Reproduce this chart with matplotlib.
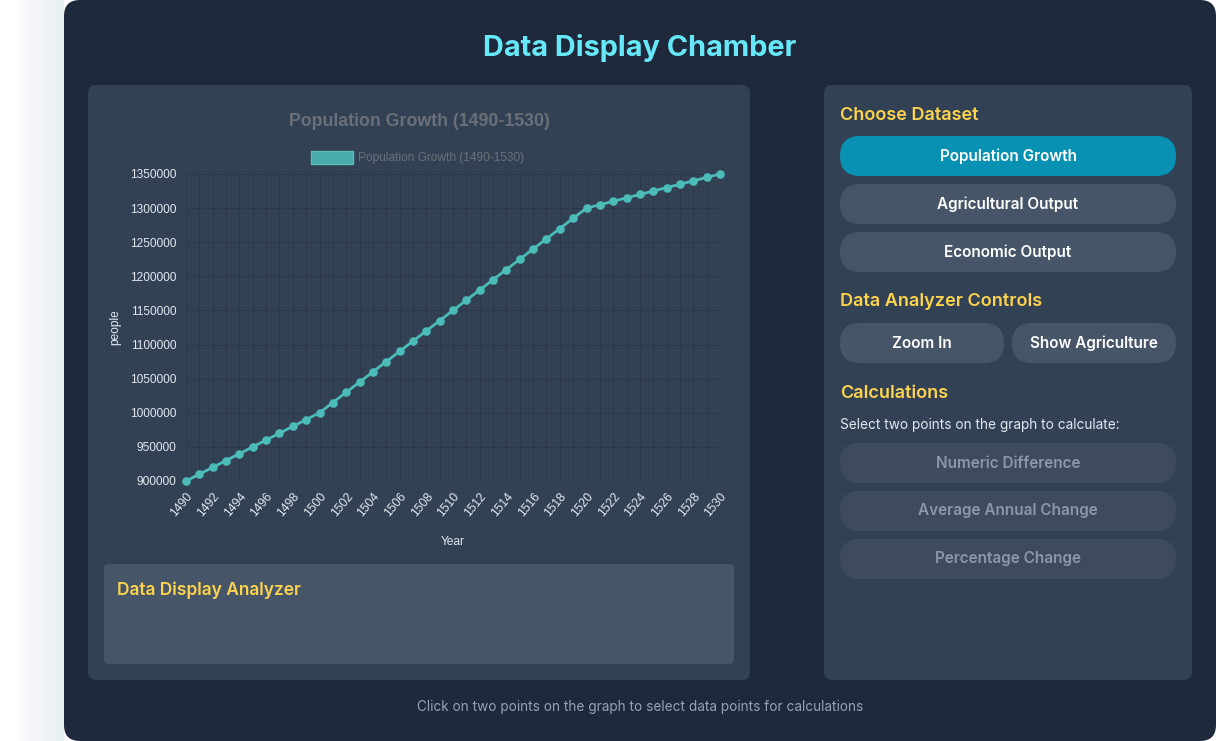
import matplotlib
matplotlib.use("Agg")
import matplotlib.pyplot as plt
from matplotlib.patches import FancyBboxPatch, Rectangle

# data
years = list(range(1490, 1531))
population = [900000, 910000, 920000, 930000, 940000, 950000, 960000, 970000, 980000, 990000,
              1000000, 1015000, 1030000, 1045000, 1060000, 1075000, 1090000, 1105000, 1120000, 1135000,
              1150000, 1165000, 1180000, 1195000, 1210000, 1225000, 1240000, 1255000, 1270000, 1285000,
              1300000, 1305000, 1310000, 1315000, 1320000, 1325000, 1330000, 1335000, 1340000, 1345000,
              1350000]
y_ticks = list(range(900000, 1350001, 50000))
x_ticks = list(range(1490, 1531, 2))
dataset_buttons = ["Population Growth", "Agricultural Output", "Economic Output"]
control_buttons = ["Zoom In", "Show Agriculture"]
calc_buttons = ["Numeric Difference", "Average Annual Change", "Percentage Change"]

W, H = 1216, 741
fig = plt.figure(figsize=(W / 100, H / 100), dpi=100, facecolor="white")

# full-figure axes in pixel coordinates for the page layout
bg = fig.add_axes([0, 0, 1, 1])
bg.set_xlim(0, W)
bg.set_ylim(H, 0)
bg.axis("off")

def box(x, y, w, h, color, r, alpha=1.0, z=1):
    bg.add_patch(FancyBboxPatch((x, y), w, h, boxstyle="round,pad=0,rounding_size=%d" % r,
                                facecolor=color, edgecolor="none", alpha=alpha, zorder=z))

# soft shadow left of the main panel
for i in range(12):
    bg.add_patch(Rectangle((64 - 4 * (i + 1), -10), 4 * (i + 1), H + 20, facecolor="#94a3b8",
                           alpha=0.01, edgecolor="none", zorder=0))

box(64, 0, W - 64, H, "#1e293b", 16)          # main panel
box(88, 85, 662, 595, "#334155", 8, z=2)       # chart card
box(824, 85, 368, 595, "#334155", 8, z=2)      # controls card
box(104, 564, 630, 100, "#475569", 4, z=3)     # analyzer box

ui = ["Inter", "DejaVu Sans"]
bg.text(640, 48, "Data Display Chamber", color="#67e8f9", fontsize=20.8, fontweight="bold",
        family=ui, ha="center", va="center", zorder=5)
bg.text(117, 590, "Data Display Analyzer", color="#fcd34d", fontsize=12.5, fontweight="semibold",
        family=ui, ha="left", va="center", zorder=5)
bg.text(640, 707, "Click on two points on the graph to select data points for calculations",
        color="#94a3b8", fontsize=9.8, family=ui, ha="center", va="center", zorder=5)

# right side controls
bg.text(840, 115, "Choose Dataset", color="#fcd34d", fontsize=13, fontweight="semibold",
        family=ui, ha="left", va="center", zorder=5)
for i, name in enumerate(dataset_buttons):
    y0 = 136 + 48 * i
    box(840, y0, 336, 40, "#0891b2" if i == 0 else "#475569", 20, z=4)
    bg.text(1008, y0 + 20, name, color="white", fontsize=11, fontweight="semibold",
            family=ui, ha="center", va="center", zorder=5)

bg.text(840, 302, "Data Analyzer Controls", color="#fcd34d", fontsize=13, fontweight="semibold",
        family=ui, ha="left", va="center", zorder=5)
for i, name in enumerate(control_buttons):
    x0 = 840 + 172 * i
    box(x0, 323, 164, 40, "#475569", 20, z=4)
    bg.text(x0 + 82, 343, name, color="white", fontsize=11, fontweight="semibold",
            family=ui, ha="center", va="center", zorder=5)

bg.text(840, 393, "Calculations", color="#fcd34d", fontsize=13, fontweight="semibold",
        family=ui, ha="left", va="center", zorder=5)
bg.text(840, 425, "Select two points on the graph to calculate:", color="#e2e8f0", fontsize=9.8,
        family=ui, ha="left", va="center", zorder=5)
for i, name in enumerate(calc_buttons):
    y0 = 443 + 48 * i
    box(840, y0, 336, 40, "#3d4a5f", 20, z=4)
    bg.text(1008, y0 + 20, name, color="#8b97aa", fontsize=11, fontweight="semibold",
            family=ui, ha="center", va="center", zorder=5)

# chart title and legend (chart.js style)
cj = ["Liberation Sans", "DejaVu Sans"]
bg.text(419, 122, "Population Growth (1490-1530)", color="#6b7078", fontsize=12.8,
        fontweight="bold", family=cj, ha="center", va="center", zorder=5)
bg.add_patch(Rectangle((311, 151), 42, 13, facecolor="#4bb8b4", edgecolor="#5cc4c0",
                       linewidth=1, alpha=0.9, zorder=5))
bg.text(358, 158, "Population Growth (1490-1530)", color="#6b7078", fontsize=8.6,
        family=cj, ha="left", va="center", zorder=5)

# the line chart itself
ax = fig.add_axes([186 / W, (H - 481) / H, 534 / W, 307 / H])
ax.set_facecolor("none")
ax.set_zorder(6)
ax.plot(years, population, color="#4bbcb7", linewidth=2, marker="o", markersize=5.2,
        markerfacecolor="#4bbcb7", markeredgecolor="#4bbcb7", clip_on=False, zorder=3)
ax.set_xlim(1490, 1530)
ax.set_ylim(900000, 1350000)
ax.set_xticks(years, minor=True)
ax.set_xticks(x_ticks)
ax.set_xticklabels([str(t) for t in x_ticks], rotation=50, ha="right", rotation_mode="anchor",
                   family=cj, fontsize=8.8, color="#e2e8f0")
ax.set_yticks(y_ticks)
ax.set_yticklabels([str(t) for t in y_ticks], family=cj, fontsize=8.6, color="#e2e8f0")
ax.grid(True, which="both", color="#2d394b", linewidth=0.7)
ax.tick_params(which="both", length=0, pad=7)
for s in ax.spines.values():
    s.set_visible(False)
ax.set_xlabel("Year", family=cj, fontsize=8.6, color="#e2e8f0", labelpad=12)
ax.set_ylabel("people", family=cj, fontsize=8.6, color="#e2e8f0", labelpad=6)

fig.savefig("out.png", dpi=100, facecolor="white")
